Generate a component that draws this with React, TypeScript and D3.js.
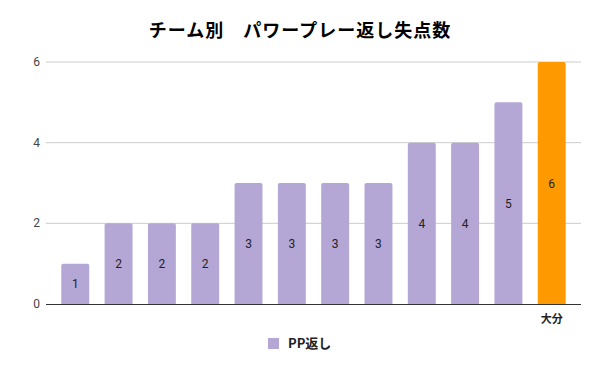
import React from "react";
import * as d3 from "d3";

const categories = ["", "", "", "", "", "", "", "", "", "", "", "大分"];
const values = [1, 2, 2, 2, 3, 3, 3, 3, 4, 4, 5, 6];
const highlight = [false, false, false, false, false, false, false, false, false, false, false, true];
const yTicks = [0, 2, 4, 6];
const title = "チーム別　パワープレー返し失点数";
const seriesName = "PP返し";

const W = 600;
const H = 371;
const FONT = "'Noto Sans CJK JP', Roboto, Arial, sans-serif";
const NUMFONT = "Roboto, Arial, sans-serif";

export default function App() {
  const ids = values.map((_, i) => String(i));
  const x = d3.scaleBand<string>().domain(ids).range([53.5, 573.5]).paddingInner(0.355).paddingOuter(0.18);
  const y = d3.scaleLinear().domain([0, 6]).range([304, 62]);
  const plotLeft = 46;
  const plotRight = 581;
  const purple = "#b4a7d6";
  const orange = "#ff9900";

  return (
    <svg width={W} height={H} style={{ position: "absolute", left: 0, top: 0, background: "#fff" }}>
      <rect x={0} y={0} width={W} height={H} fill="#fff" />
      <text x={300} y={37} textAnchor="middle" fontFamily={FONT} fontWeight="bold" fontSize={18} letterSpacing={1} fill="#000">
        {title}
      </text>
      {yTicks.map((t) => (
        <g key={t}>
          {t !== 0 && (
            <line x1={plotLeft} x2={plotRight} y1={y(t)} y2={y(t)} stroke="#cccccc" strokeWidth={1} />
          )}
          <text x={40} y={y(t) + 4} textAnchor="end" fontFamily={NUMFONT} fontSize={12} fill="#444">
            {t}
          </text>
        </g>
      ))}
      {values.map((v, i) => {
        const bx = x(ids[i])!;
        const bw = x.bandwidth();
        const top = y(v);
        const h = y(0) - top;
        const r = 2;
        const path = `M${bx},${y(0)} L${bx},${top + r} Q${bx},${top} ${bx + r},${top} L${bx + bw - r},${top} Q${bx + bw},${top} ${bx + bw},${top + r} L${bx + bw},${y(0)} Z`;
        return (
          <g key={i}>
            <path d={path} fill={highlight[i] ? orange : purple} />
            <text x={bx + bw / 2} y={top + h / 2 + 4.5} textAnchor="middle" fontFamily={NUMFONT} fontSize={12} fill="#222">
              {v}
            </text>
            {categories[i] && (
              <text x={bx + bw / 2} y={323} textAnchor="middle" fontFamily={FONT} fontWeight="bold" fontSize={11} fill="#222">
                {categories[i]}
              </text>
            )}
          </g>
        );
      })}
      <line x1={plotLeft} x2={plotRight} y1={y(0) + 0.5} y2={y(0) + 0.5} stroke="#333" strokeWidth={1} />
      <rect x={268} y={338} width={11} height={11} fill={purple} />
      <text x={288} y={348} fontFamily={FONT} fontWeight="bold" fontSize={13} fill="#222">
        {seriesName}
      </text>
    </svg>
  );
}
